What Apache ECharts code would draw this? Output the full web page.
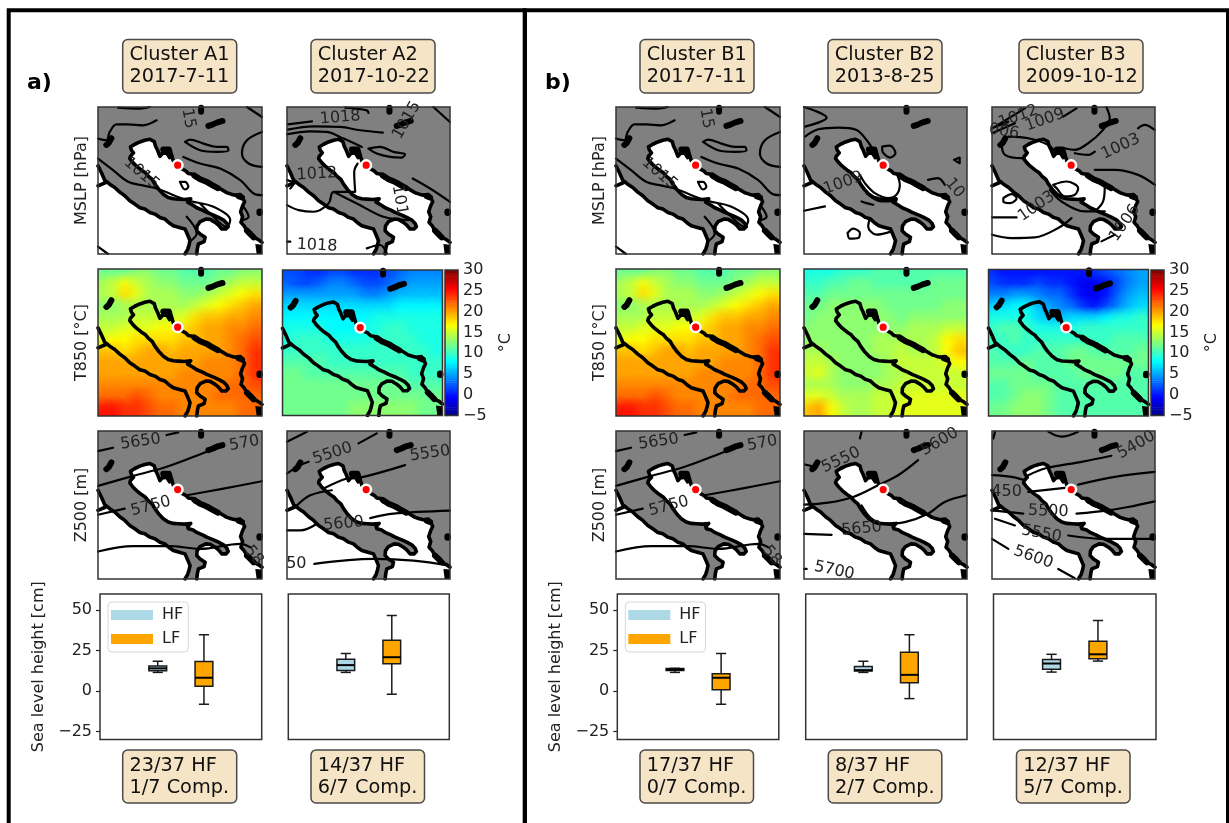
<!DOCTYPE html>
<html><head><meta charset="utf-8">
<style>html,body{margin:0;padding:0;background:#fff;overflow:hidden}#chart{width:1229px;height:823px}</style>
<script src="https://cdn.jsdelivr.net/npm/echarts@6/dist/echarts.min.js"></script>
</head><body><div id="chart"></div>
<script>
// ---------- geography, in map units (x 0..490, y 0..442 downward) ----------
const coastItaly=[[225,162],[220,145],[214,152],[205,138],[192,140],[185,148],[178,130],[172,118],[168,104],[155,97],[140,100],[125,105],[110,112],[97,120],[100,130],[106,138],[97,148],[95,155],[105,168],[115,178],[130,190],[142,198],[150,208],[162,218],[170,232],[181,247],[195,262],[210,272],[225,276],[240,277],[258,278],[277,276],[268,286],[270,292],[285,296],[295,303],[312,310],[325,317],[345,325],[360,332],[375,340],[385,350],[389,360],[382,367],[370,367],[360,355],[350,347],[335,338],[322,337],[305,345],[296,358],[295,372],[305,382],[320,392],[317,405],[300,412],[297,425],[295,442]];
const coastBalkan=[[240,177],[252,187],[262,192],[270,200],[283,202],[290,212],[305,214],[318,225],[330,224],[345,236],[360,243],[372,250],[385,258],[398,262],[410,265],[425,263],[432,272],[438,285],[432,297],[426,315],[432,330],[427,347],[437,358],[445,372],[458,380],[465,392],[478,398],[490,407]];
const coastCorsica=[[0,177],[10,197],[23,227],[0,237]];
const coastTyrrhenian=[[23,222],[35,232],[50,242],[65,256],[80,267],[95,282],[110,292],[125,303],[140,307],[155,317],[170,322],[185,332],[200,337],[212,348],[225,357],[243,362],[260,367],[268,385],[275,402],[272,415],[268,428],[260,442]];
const islands=[[[95,219],[96,219]],[[88,244],[89,244]],[[483,315],[483,318]]];
const thickCoast=[[[288,206],[305,217],[322,224],[340,234],[358,244]],[[195,128],[212,128],[216,145]],[[445,372],[455,382],[465,392]],[[330,57],[342,53],[355,47],[372,42]],[[308,2],[308,14]],[[25,114],[32,108],[40,94]],[[420,268],[430,272]]];
const cornerLand=[[470,412],[490,414],[490,442],[474,442]];
const station=[[238,175]];

// ---------- MSLP contours ----------
const mslpA1=[[[60,2],[125,5],[155,0]],[[0,95],[25,100],[35,75],[55,52],[90,52],[135,55],[175,40]],[[255,150],[305,170],[365,185],[425,220],[465,260],[490,265]],[[260,105],[305,130],[355,135],[390,130],[385,120],[355,120],[315,110],[275,98],[260,105]],[[490,75],[445,100],[430,140],[450,170],[490,180]],[[445,0],[490,30]],[[0,155],[45,190],[90,225],[130,235],[175,245],[265,280],[345,300],[395,340],[385,360],[335,320],[305,290]],[[245,225],[260,248],[270,240],[260,225],[245,225]],[[0,420],[30,442]],[[435,300],[450,330],[435,340]],[[265,330],[295,380],[280,400]]];
const mslpA1Labels=[[270,35,'15',-80],[130,200,'1015',-40]];
const mslpA2=[[[2,52],[75,43]],[[2,68],[80,58],[160,60],[220,70],[288,77]],[[0,82],[70,73],[120,75],[170,95],[225,120]],[[175,2],[240,10],[245,18]],[[440,0],[490,45]],[[245,125],[280,120],[320,135],[355,142],[345,152],[310,150],[270,140],[245,125]],[[378,215],[430,245],[490,285]],[[212,170],[202,195],[205,255]],[[205,255],[140,255],[125,290],[80,315],[35,310],[0,295]],[[140,255],[210,290],[290,330],[365,340]],[[0,405],[10,405]],[[240,425],[280,415],[300,440]],[[0,220],[20,230],[10,245]]];
const mslpA2Labels=[[160,32,'1018',5],[360,40,'1015',60],[90,202,'1012',3],[338,280,'101',-80],[90,417,'1018',-3]];
const mslpB2=[[[0,0],[68,32],[3,59]],[[3,89],[43,67],[103,62],[158,69],[188,99],[208,129]],[[235,119],[258,116],[275,139],[258,152],[235,129],[235,119]],[[168,204],[183,229],[213,259],[253,274],[278,264],[288,234],[278,199]],[[188,259],[233,284],[278,282]],[[373,219],[403,214],[423,234]],[[0,312],[63,299]],[[131,379],[148,366],[168,379],[163,394],[138,396],[131,379]],[[198,334],[193,359],[218,384],[263,374]],[[173,284],[188,289],[208,294]],[[451,159],[468,152],[468,169],[451,159]]];
const mslpB2Labels=[[118,229,'1009',20],[453,244,'10',-50]];
const mslpB3=[[[0,64],[49,44]],[[9,59],[99,4]],[[0,79],[69,49]],[[49,89],[109,94],[169,114],[189,134]],[[29,114],[39,144],[89,154],[104,144]],[[344,0],[354,34],[329,74],[289,109],[249,129],[219,124]],[[214,29],[254,4]],[[249,139],[289,144],[309,134]],[[439,64],[459,54],[489,69]],[[309,189],[369,189],[439,204],[490,234]],[[184,234],[224,224],[259,244],[249,264],[219,269],[194,244],[184,234]],[[174,249],[209,284],[279,314],[339,314]],[[339,239],[334,284],[309,314]],[[34,274],[59,262],[74,274],[54,289],[34,284],[34,274]],[[0,332],[74,332]],[[0,384],[59,394],[129,392],[199,364],[239,334]],[[329,404],[369,384]]];
const mslpB3Labels=[[79,29,'1012',20],[159,39,'1009',20],[36,74,'006',-10],[387,119,'1003',25],[134,299,'1003',35],[399,349,'1006',55]];

// ---------- Z500 contours ----------
const zA1=[[[0,60],[45,50]],[[205,12],[240,4]],[[0,164],[95,137],[205,107],[325,62],[365,47]],[[265,192],[375,172],[490,150]],[[0,250],[80,232]],[[0,360],[105,344],[215,344],[305,352],[425,337],[455,347]]];
const zA1Labels=[[127,32,'5650',8],[437,37,'570',10],[158,225,'5750',15],[465,372,'58',-50]];
const zA2=[[[0,32],[60,2]],[[0,127],[40,102],[65,92]],[[215,37],[270,7]],[[110,172],[180,142],[230,137],[355,102]],[[30,222],[70,192],[135,177]],[[0,297],[40,297],[90,277]],[[250,260],[320,247],[490,238]],[[82,397],[260,382],[380,387],[490,402]]];
const zA2Labels=[[137,67,'5500',18],[430,67,'5550',8],[170,277,'5600',5],[28,397,'50',0]];
const zB2=[[[3,100],[33,107]],[[168,22],[173,2]],[[0,220],[73,214],[148,197],[223,162],[283,132],[343,87]],[[173,222],[203,262],[243,277],[303,272],[373,247],[423,212],[488,192]],[[0,307],[83,310]],[[0,412],[8,412]]];
const zB2Labels=[[111,87,'5550',25],[408,32,'5600',30],[173,292,'5650',5],[91,417,'5700',-12]];
const zB3=[[[9,2],[4,22]],[[169,2],[209,17],[259,2]],[[0,132],[59,137],[99,147]],[[109,132],[159,112],[269,92],[359,74]],[[259,160],[369,137],[490,122]],[[109,182],[219,170]],[[254,247],[349,237],[409,227],[490,210]],[[0,237],[49,242],[94,247]],[[9,262],[69,282]],[[229,312],[339,322],[490,322]],[[0,322],[49,352]],[[199,412],[249,440]]];
const zB3Labels=[[434,42,'5400',30],[44,182,'450',0],[169,240,'5500',-2],[149,307,'5550',-10],[124,377,'5600',-20]];

// ---------- T850 fields, °C, 14 columns by 13 rows ----------
const t850A1=[
[12,12,12,13,13,12,12,11,11,11,12,12,13,13],[14,15,17,15,14,13,13,12,12,12,13,14,15,15],[14,15,18,16,14,14,14,13,13,14,15,16,17,18],[13,13,14,14,14,14,14,14,15,16,17,18,19,20],[14,14,14,15,15,15,15,16,18,19,19,20,20,21],[15,15,16,16,16,17,17,18,19,20,20,21,21,22],[16,17,17,18,18,18,18,19,19,20,20,21,22,23],[19,19,18,19,20,20,19,20,20,20,20,21,22,24],[20,20,20,20,20,20,20,20,20,21,21,21,22,24],[20,20,20,20,20,20,20,21,21,21,21,21,22,24],[21,21,21,21,21,21,21,21,21,21,21,22,22,23],[22,22,22,23,22,21,21,21,21,21,22,22,22,22],[25,25,24,24,23,22,22,21,21,21,21,21,22,22]];
const t850A2=[
[2,2,1,1,2,2,1,1,1,2,3,4,4,4],[3,2,2,3,4,4,3,2,2,3,4,5,5,5],[5,5,5,5,5,5,5,4,4,5,6,6,6,6],[7,7,7,7,7,7,7,7,7,7,8,8,8,8],[8,8,8,8,8,8,8,8,9,9,9,9,9,9],[9,9,9,9,8,8,8,9,9,10,10,9,9,9],[9,10,10,10,9,9,9,9,10,10,10,10,9,9],[10,10,10,10,10,10,10,10,10,10,10,10,10,9],[11,11,11,11,10,10,10,10,10,10,10,10,10,10],[12,12,11,11,11,11,11,11,11,11,11,10,10,10],[12,12,12,12,12,12,12,12,12,12,12,11,11,11],[12,12,12,12,12,12,12,12,12,12,12,12,12,12],[12,12,12,12,12,12,13,13,13,13,13,13,12,12]];
const t850B2=[
[9,9,9,10,10,10,11,11,11,11,11,11,11,11],[10,10,11,11,12,12,11,11,11,11,11,12,12,12],[11,11,12,12,12,12,12,12,12,12,12,12,12,12],[12,12,13,13,13,13,13,12,12,12,12,12,13,13],[12,13,13,13,13,13,13,13,12,13,13,13,13,13],[13,13,13,13,13,13,13,13,13,14,14,14,15,15],[13,13,13,13,13,13,14,14,14,14,14,15,17,18],[14,14,13,13,13,13,14,14,15,14,14,15,17,19],[15,15,14,13,13,13,13,14,15,15,15,15,16,17],[15,16,14,13,13,13,13,14,14,15,15,15,15,15],[14,14,14,13,13,13,14,14,15,15,15,15,15,15],[16,16,15,14,14,14,15,15,15,16,16,16,16,16],[19,20,17,15,14,14,15,15,16,16,16,16,16,16]];
const t850B3=[
[1,0,0,0,0,0,0,0,0,1,2,3,4,5],[2,1,1,1,2,1,1,0,-1,-1,0,2,4,5],[4,4,5,5,4,3,3,1,-1,-1,0,3,5,6],[7,7,8,8,6,5,4,3,1,0,2,4,6,7],[9,9,9,9,7,6,6,7,7,7,8,9,9,10],[10,11,11,10,9,9,9,9,10,10,10,10,10,10],[10,10,11,10,10,10,10,10,10,10,10,11,11,11],[11,10,10,10,11,11,11,12,12,11,11,11,11,12],[11,11,11,12,11,11,11,12,12,12,12,12,12,12],[12,12,12,12,11,11,11,11,12,12,12,12,11,11],[11,11,12,12,12,12,11,11,11,11,11,11,11,11],[11,11,12,13,13,12,11,11,11,11,11,11,11,11],[12,12,13,13,13,12,11,11,11,11,11,11,11,11]];

// ---------- sea level boxes: min, Q1, median, Q3, max (cm) ----------
const hfA1=[11.5,12.5,14,15.4,18.4], lfA1=[-8.2,2.9,8.2,18.2,34.8];
const hfA2=[11.5,12.7,16,19.7,23.2], lfA2=[-2,16.8,20.9,31.4,46.7];
const hfB1=[11.5,12.7,13.3,13.9,14], lfB1=[-8.2,0.8,8.2,10.7,23.2];
const hfB2=[11.5,12.3,12.9,15.2,18.4], lfB2=[-4.7,5.1,10,24,34.8];
const hfB3=[11.7,13.5,17,19.5,22.7], lfB3=[18.5,20,22.7,30.7,43.6];

// ---------- text ----------
const titles=[['Cluster A1\n2017-7-11',122.7,39.5,114,53.5],['Cluster A2\n2017-10-22',311,39.5,124,53.5],['Cluster B1\n2017-7-11',640,39.5,114,53.5],['Cluster B2\n2013-8-25',828,39.5,114,53.5],['Cluster B3\n2009-10-12',1019,39.5,124,53.5]];
const notes=[['23/37 HF\n1/7 Comp.',122.7,750,114,53],['14/37 HF\n6/7 Comp.',311,750,113.5,53],['17/37 HF\n0/7 Comp.',640,750,113.5,53],['8/37 HF\n2/7 Comp.',828.3,750,113.5,53],['12/37 HF\n5/7 Comp.',1016.5,750,113.5,53]];
const FONT='"DejaVu Sans"';
const INK='#222';

// ---------- helpers ----------
const jet=v=>{const t=Math.min(1,Math.max(0,(v+5)/35));const c=x=>Math.round(255*Math.min(1,Math.max(0,x)));
  return [c(Math.min(4*t-1.5,-4*t+4.5)),c(Math.min(4*t-0.5,-4*t+3.5)),c(Math.min(4*t+0.5,-4*t+2.5))];};
const rgba=(c,a)=>`rgba(${c[0]},${c[1]},${c[2]},${a})`;
const grid=[],xAxis=[],yAxis=[],series=[],graphic=[],legend=[];
function frame(x,y,w,h,color,lw){graphic.push({type:'rect',silent:true,z:60,shape:{x,y,width:w,height:h},style:{fill:'none',stroke:color||'#333',lineWidth:lw||1.5}});}
function addGrid(x,y,w,h,bg,xa,ya){const i=grid.length;
  grid.push({left:x,top:y,width:w,height:h,show:!!bg,backgroundColor:bg||'transparent',borderWidth:0});
  xAxis.push(Object.assign({type:'value',gridIndex:i,show:false},xa));
  yAxis.push(Object.assign({type:'value',gridIndex:i,show:false},ya));
  return i;}
function polygon(g,poly,fill,z){series.push({type:'custom',silent:true,clip:true,z:z||1,xAxisIndex:g,yAxisIndex:g,data:poly,encode:{x:0,y:1},
  renderItem(p,api){if(p.dataIndex!==0)return;return {type:'polygon',shape:{points:poly.map(q=>api.coord(q))},style:{fill}};}});}
function lines(g,polys,width,color,z,smooth){const data=[];polys.forEach(l=>{l.forEach(q=>data.push(q));data.push([null,null]);});
  series.push({type:'line',silent:true,clip:true,z,xAxisIndex:g,yAxisIndex:g,data,showSymbol:false,symbol:'none',connectNulls:false,smooth:smooth||false,
    lineStyle:{width,color,cap:'round',join:'round'}});}
function contourLabels(g,labels){series.push({type:'scatter',silent:true,clip:false,z:6,xAxisIndex:g,yAxisIndex:g,symbolSize:1,itemStyle:{color:'rgba(0,0,0,0)',opacity:1},
  data:labels.map(l=>({value:[l[0],l[1]],label:{show:true,position:'inside',opacity:1,formatter:l[2],rotate:l[3],fontFamily:FONT,fontSize:16,color:'#222',align:'center',verticalAlign:'middle'}}))});}
function baseMap(g){
  polygon(g,cornerLand,'#000',3);
  lines(g,[coastItaly,coastBalkan,coastCorsica,coastTyrrhenian],3.6,'#000',4);
  lines(g,thickCoast,6,'#000',4);
  lines(g,islands,6.5,'#000',4);
  series.push({type:'scatter',silent:true,z:8,xAxisIndex:g,yAxisIndex:g,data:station,symbol:'circle',symbolSize:9.7,itemStyle:{color:'#f00',borderColor:'#fff',borderWidth:2.5,opacity:1}});
}
const MAPX={min:0,max:490},MAPY={min:0,max:442,inverse:true};
const seaPoly=coastItaly.concat([[478,442]],coastBalkan.slice().reverse());
const westPoly=coastTyrrhenian.concat([[0,442],[0,237],[23,222]]);
function mapPanel(x,y,w,h,contours,labels,name){
  const ya=name?{show:true,name,nameLocation:'middle',nameGap:8,nameTextStyle:{fontFamily:FONT,fontSize:16,color:INK},axisLine:{show:false},axisTick:{show:false},axisLabel:{show:false},splitLine:{show:false}}:{};
  const g=addGrid(x,y,w,h,'#808080',MAPX,Object.assign({},MAPY,ya));
  polygon(g,seaPoly,'#fff');polygon(g,westPoly,'#fff');polygon(g,coastCorsica,'#fff');
  lines(g,contours,2.2,'#000',3,0.35);
  baseMap(g);contourLabels(g,labels);frame(x,y,w,h);
}
function heatPanel(x,y,w,h,field,name){
  const ya=name?{show:true,name,nameLocation:'middle',nameGap:8,nameTextStyle:{fontFamily:FONT,fontSize:16,color:INK},axisLine:{show:false},axisTick:{show:false},axisLabel:{show:false},splitLine:{show:false}}:{};
  const g=addGrid(x,y,w,h,null,MAPX,Object.assign({},MAPY,ya));
  const cw=490/14,ch=442/13,cells=[];
  field.forEach((row,r)=>row.forEach((v,c)=>cells.push([c*cw+cw/2,r*ch+ch/2,v])));
  const enc={x:0,y:1};
  series.push({type:'custom',silent:true,clip:true,z:1,xAxisIndex:g,yAxisIndex:g,data:cells,encode:enc,renderItem(p,api){
    const a=api.coord([api.value(0)-cw/2,api.value(1)-ch/2]),b=api.coord([api.value(0)+cw/2,api.value(1)+ch/2]);
    return {type:'rect',shape:{x:a[0],y:a[1],width:b[0]-a[0]+.6,height:b[1]-a[1]+.6},style:{fill:rgba(jet(api.value(2)),1)}};}});
  series.push({type:'custom',silent:true,clip:true,z:2,xAxisIndex:g,yAxisIndex:g,data:cells,encode:enc,renderItem(p,api){
    const a=api.coord([api.value(0),api.value(1)]),c=jet(api.value(2));
    return {type:'circle',shape:{cx:a[0],cy:a[1],r:15},style:{fill:new echarts.graphic.RadialGradient(.5,.5,.5,[{offset:0,color:rgba(c,.95)},{offset:.5,color:rgba(c,.55)},{offset:1,color:rgba(c,0)}])}};}});
  baseMap(g);frame(x,y,w,h);
}
function colorbar(x,y,w,h){
  const levels=[];for(let v=-5;v<30;v+=0.5)levels.push(v);
  const g=addGrid(x,y,w,h,null,{min:0,max:1},{show:true,min:-5,max:30,interval:5,position:'right',
    axisLine:{show:false},axisTick:{show:true,length:4,lineStyle:{color:'#222',width:1.2}},splitLine:{show:false},
    axisLabel:{margin:5,fontFamily:FONT,fontSize:16,color:INK,formatter:v=>String(v).replace('-','\u2212')},
    name:'°C',nameLocation:'middle',nameGap:40,nameRotate:90,nameTextStyle:{fontFamily:FONT,fontSize:16,color:INK}});
  series.push({type:'custom',silent:true,clip:true,xAxisIndex:g,yAxisIndex:g,data:levels.map(v=>[0,v]),encode:{y:1},renderItem(p,api){
    const v=api.value(1),a=api.coord([0,v+.5]),b=api.coord([1,v]);
    return {type:'rect',shape:{x:a[0],y:a[1],width:b[0]-a[0],height:b[1]-a[1]+.6},style:{fill:rgba(jet(v+.25),1)}};}});
  frame(x,y,w,h);
}
function boxSeries(g,name,pos,vals,color){
  series.push({type:'custom',name,silent:true,z:3,xAxisIndex:g,yAxisIndex:g,itemStyle:{color},data:[[pos].concat(vals)],encode:{x:0,y:[1,5]},renderItem(p,api){
    const X=api.value(0),pt=(dx,i)=>api.coord([X+dx,api.value(i)]),hb=.385,hc=.22;
    const st={stroke:'#1a1a1a',lineWidth:1.5,fill:'none'},seg=(a,b,s)=>({type:'line',shape:{x1:a[0],y1:a[1],x2:b[0],y2:b[1]},style:s||st});
    const q1=pt(-hb,2),q3=pt(hb,4);
    return {type:'group',children:[
      seg(pt(0,1),pt(0,2)),seg(pt(0,4),pt(0,5)),seg(pt(-hc,1),pt(hc,1)),seg(pt(-hc,5),pt(hc,5)),
      {type:'rect',shape:{x:q1[0],y:q3[1],width:q3[0]-q1[0],height:q1[1]-q3[1]},style:{fill:color,stroke:'#1a1a1a',lineWidth:1.5}},
      seg(pt(-hb,3),pt(hb,3),{stroke:'#000',lineWidth:2,fill:'none'})]};}});
}
function boxPanel(x,y,w,h,hf,lf,showAxis){
  const ya=showAxis?{show:true,axisLine:{show:false},splitLine:{show:false},
      axisTick:{show:true,length:4,lineStyle:{color:'#222',width:1.2},customValues:[-25,0,25,50]},
      axisLabel:{margin:8,fontFamily:FONT,fontSize:16,color:INK,customValues:[-25,0,25,50],formatter:v=>String(v).replace('-','\u2212')},
      name:'Sea level height [cm]',nameLocation:'middle',nameGap:53,nameTextStyle:{fontFamily:FONT,fontSize:16,color:INK}}:{};
  const g=addGrid(x,y,w,h,'#fff',{min:0,max:7},Object.assign({min:-30,max:60},ya));
  boxSeries(g,'HF',2.5,hf,'#add8e6');boxSeries(g,'LF',4.5,lf,'#ffa500');frame(x,y,w,h);
  if(showAxis)legend.push({left:x+8,top:y+8,orient:'vertical',data:['HF','LF'],selectedMode:false,icon:'rect',itemWidth:42,itemHeight:10,itemGap:8,
    padding:[5,5,5,3],backgroundColor:'#fff',borderColor:'#d8d8d8',borderWidth:1,borderRadius:4,textStyle:{fontFamily:FONT,fontSize:16,color:INK,padding:[0,0,0,4]}});
}
function textBox(t){
  graphic.push({type:'rect',silent:true,z:60,shape:{x:t[1],y:t[2],width:t[3],height:t[4],r:5},style:{fill:'#f5e4c6',stroke:'#4a4a4a',lineWidth:1.5}});
  graphic.push({type:'text',silent:true,z:61,x:t[1]+6.8,y:t[2]+t[4]/2,style:{text:t[0],font:'19.3px '+FONT,fill:'#111',align:'left',verticalAlign:'middle',lineHeight:22}});
}

// ---------- layout ----------
mapPanel(98,107,164,147,mslpA1,mslpA1Labels,'MSLP [hPa]');
mapPanel(287,107,163,147,mslpA2,mslpA2Labels);
mapPanel(616,107,164,147,mslpA1,mslpA1Labels,'MSLP [hPa]');
mapPanel(804,107,163,147,mslpB2,mslpB2Labels);
mapPanel(992,107,163,147,mslpB3,mslpB3Labels);
heatPanel(98,269,164,147,t850A1,'T850 [°C]');
heatPanel(282.5,270,160,145.5,t850A2);
colorbar(445,270,13,145.5);
heatPanel(616,269,164,147,t850A1,'T850 [°C]');
heatPanel(804,269,163,147,t850B2);
heatPanel(988.5,269.5,160,146.5,t850B3);
colorbar(1151,270,13,145.5);
mapPanel(98,431,164,148,zA1,zA1Labels,'Z500 [m]');
mapPanel(287,431,163,148,zA2,zA2Labels);
mapPanel(616,431,164,148,zA1,zA1Labels,'Z500 [m]');
mapPanel(804,431,163,148,zB2,zB2Labels);
mapPanel(992,431,163,148,zB3,zB3Labels);
boxPanel(100,594,161.7,145.5,hfA1,lfA1,true);
boxPanel(288.3,594,161,145.5,hfA2,lfA2,false);
boxPanel(617.3,594,161.5,145.5,hfB1,lfB1,true);
boxPanel(805.7,594,161.3,145.5,hfB2,lfB2,false);
boxPanel(993.5,594,162.5,145.5,hfB3,lfB3,false);
titles.forEach(t=>textBox(t));
notes.forEach(t=>textBox(t));
graphic.push({type:'text',silent:true,z:61,x:27,y:83,style:{text:'a)',font:'bold 22px '+FONT,fill:'#000',verticalAlign:'middle'}});
graphic.push({type:'text',silent:true,z:61,x:545,y:83,style:{text:'b)',font:'bold 22px '+FONT,fill:'#000',verticalAlign:'middle'}});
frame(8.7,10.3,516,900,'#000',4);
frame(525,10.3,703,900,'#000',4);

const chart=echarts.init(document.getElementById('chart'),null,{renderer:'canvas',width:1229,height:823});
chart.setOption({animation:false,backgroundColor:'#fff',textStyle:{fontFamily:FONT},grid,xAxis,yAxis,series,legend,graphic:{elements:graphic},tooltip:{show:false}});
</script></body></html>
